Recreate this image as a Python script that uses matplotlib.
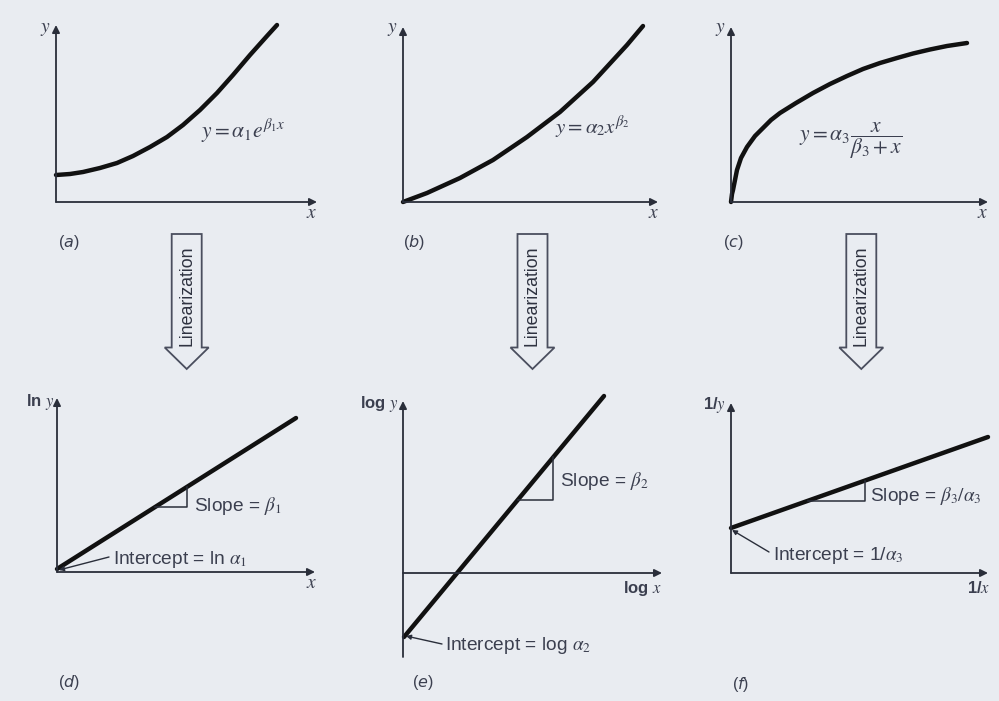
import numpy as np
import matplotlib
matplotlib.use("Agg")
import matplotlib.pyplot as plt
from matplotlib.patches import Polygon

# ---------------- data (units = offsets from each panel's origin) ----------------
# (a) exponential model
a_x = [0, 14, 27, 44, 61, 77, 94, 111, 127, 144, 161, 177, 194, 211, 221]
a_y = [27, 28, 30, 34, 39, 46, 55, 65, 77, 92, 109, 127, 147, 166, 177]
# (b) power model
b_x = [0, 24, 57, 90, 124, 157, 190, 224, 240]
b_y = [0, 9, 24, 42, 65, 90, 120, 157, 176]
# (c) saturation-growth-rate model
c_x = [0, 1, 2, 4, 6, 10, 16, 24, 32, 40, 49, 65, 82, 99, 116, 132, 149, 166, 182, 199, 216, 236]
c_y = [0, 8, 12, 22, 32, 44, 55, 66, 74, 82, 89, 99, 109, 118, 126, 133, 139, 144, 148.5, 152.5, 156, 159]
# (d) ln y vs x
d_x = [0, 239]
d_y = [3, 154]
d_tri_x = [98, 130]
# (e) log y vs log x
e_x = [1, 201]
e_y = [-64, 177]
e_tri_x = [115, 150]
# (f) 1/y vs 1/x
f_x = [0, 257]
f_y = [45, 136]
f_tri_x = [77, 134]

BG = "#e9ecf1"
CURVE = "#111111"
AXC = "#2a2e3a"
TXT = "#3b3f4f"
SANS = ["Liberation Sans", "DejaVu Sans"]

W, H = 999, 701
fig = plt.figure(figsize=(W / 100, H / 100), dpi=100, facecolor=BG)
plt.rcParams["mathtext.fontset"] = "stix"


def panel(ox, oy, xmin, xmax, ymin, ymax):
    ax = fig.add_axes([(ox + xmin) / W, 1 - (oy - ymin) / H,
                       (xmax - xmin) / W, (ymax - ymin) / H])
    ax.set_xlim(xmin, xmax)
    ax.set_ylim(ymin, ymax)
    ax.axis("off")
    ax.patch.set_visible(False)
    return ax


def axes_arrows(ax, xtip, ytip, ybot=0):
    kw = dict(arrowstyle="-|>", color=AXC, lw=1.3, mutation_scale=11,
              shrinkA=0, shrinkB=0)
    ax.annotate("", xy=(xtip, 0), xytext=(0, 0), arrowprops=kw, annotation_clip=False)
    ax.annotate("", xy=(0, ytip), xytext=(0, ybot), arrowprops=kw, annotation_clip=False)


def curve(ax, x, y):
    ax.plot(x, y, color=CURVE, lw=3.2, solid_capstyle="round",
            solid_joinstyle="round", clip_on=False)


def slope_tri(ax, lx, ly, tx):
    y0 = np.interp(tx[0], lx, ly)
    y1 = np.interp(tx[1], lx, ly)
    ax.plot([tx[0], tx[1], tx[1]], [y0, y0, y1], color=AXC, lw=1.1, clip_on=False)


# top row
axa = panel(56, 202, -10, 275, -10, 190)
axes_arrows(axa, 261, 177)
curve(axa, a_x, a_y)

axb = panel(403, 202, -10, 270, -10, 190)
axes_arrows(axb, 255, 175)
curve(axb, b_x, b_y)

axc = panel(731, 202, -10, 268, -10, 190)
axes_arrows(axc, 257, 175)
curve(axc, c_x, c_y)

# bottom row
axd = panel(57, 572, -10, 270, -10, 185)
axes_arrows(axd, 258, 174)
curve(axd, d_x, d_y)
slope_tri(axd, d_x, d_y, d_tri_x)

axe = panel(403, 573, -10, 270, -95, 185)
axes_arrows(axe, 259, 172, ybot=-84)
curve(axe, e_x, e_y)
slope_tri(axe, e_x, e_y, e_tri_x)

axf = panel(731, 573, -10, 268, -10, 185)
axes_arrows(axf, 257, 170)
curve(axf, f_x, f_y)
slope_tri(axf, f_x, f_y, f_tri_x)

# ---------------- overlay in pixel coordinates for annotations ----------------
lay = fig.add_axes([0, 0, 1, 1])
lay.set_xlim(0, W)
lay.set_ylim(H, 0)
lay.axis("off")
lay.patch.set_visible(False)


def t(x, y, s, size=12, ha="center", va="center", **kw):
    lay.text(x, y, s, fontsize=size, ha=ha, va=va, color=TXT,
             family=SANS, math_fontfamily="stix", **kw)


# axis labels
for (x, y) in [(45, 29), (392, 29), (720, 30)]:
    t(x, y, "$y$", size=14)
for (x, y) in [(312, 213), (654, 213), (983, 213), (312, 583)]:
    t(x, y, "$x$", size=14)
t(54, 402, r"ln $y$", size=12, ha="right", weight="bold")
t(399, 404, r"log $y$", size=12, ha="right", weight="bold")
t(726, 405, r"1/$y$", size=12, ha="right", weight="bold")
t(662, 588, r"log $x$", size=12, ha="right", weight="bold")
t(990, 588, r"1/$x$", size=12, ha="right", weight="bold")

# equations
t(243, 131, r"$y = \alpha_1 e^{\beta_1 x}$", size=15.5)
t(592, 127, r"$y = \alpha_2 x^{\beta_2}$", size=15)
t(851, 141, r"$y = \alpha_3 \dfrac{x}{\beta_3 + x}$", size=15.5)

# slope / intercept labels
t(194, 506, r"Slope = $\beta_1$", size=13.8, ha="left")
t(560, 481, r"Slope = $\beta_2$", size=13.8, ha="left")
t(870, 496, r"Slope = $\beta_3/\alpha_3$", size=13.8, ha="left")
t(113, 560, r"Intercept = ln $\alpha_1$", size=13.8, ha="left")
t(445, 646, r"Intercept = log $\alpha_2$", size=13.8, ha="left")
t(773, 555, r"Intercept = 1/$\alpha_3$", size=13.8, ha="left")

lead = dict(arrowstyle="-|>", color=AXC, lw=1.0, mutation_scale=7,
            shrinkA=0, shrinkB=0)
lay.annotate("", xy=(59, 570), xytext=(109, 557), arrowprops=lead)
lay.annotate("", xy=(406, 636), xytext=(442, 644), arrowprops=lead)
lay.annotate("", xy=(732, 530), xytext=(769, 552), arrowprops=lead)

# panel tags
for (x, y, s) in [(58, 242, "a"), (403, 242, "b"), (723, 242, "c"),
                  (58, 683, "d"), (412, 683, "e"), (732, 685, "f")]:
    lay.text(x, y, "(" + r"$\mathit{" + s + "}$" + ")", fontsize=11.5, ha="left",
             va="center", color=TXT, family=SANS, math_fontfamily="dejavusans")

# Linearization arrows
for cx in [186.7, 532.5, 861.3]:
    pts = [(cx - 15, 234), (cx + 15, 234), (cx + 15, 347.5), (cx + 22, 347.5),
           (cx, 369), (cx - 22, 347.5), (cx - 15, 347.5)]
    lay.add_patch(Polygon(pts, closed=True, facecolor=BG, edgecolor="#4a4e5e", lw=1.3))
    lay.text(cx, 296, "Linearization", rotation=90, fontsize=12.8, ha="center",
             va="center", color="#2e3240", family=SANS)

fig.savefig("out.png", dpi=100, facecolor=BG)
